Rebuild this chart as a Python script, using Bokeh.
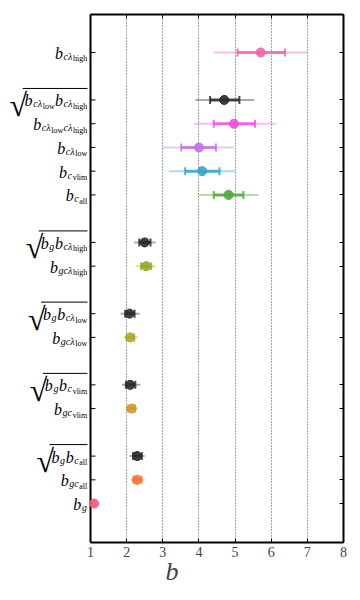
import numpy as np
from bokeh.plotting import figure
from bokeh.models import (ColumnDataSource, Range1d, LinearAxis, FixedTicker,
                          CustomJSTickFormatter)
from bokeh.core.properties import value
from bokeh.embed import file_html
from bokeh.resources import INLINE

# ---------------- data ----------------
keys = ["bc_high", "sqrt_lowhigh", "bc_lowhigh", "bc_low", "bc_vlim", "bc_all",
        "sqrt_g_high", "bgc_high", "sqrt_g_low", "bgc_low", "sqrt_g_vlim", "bgc_vlim",
        "sqrt_g_all", "bgc_all", "b_g"]
rows = [19, 17, 16, 15, 14, 13, 11, 10, 8, 7, 5, 4, 2, 1, 0]
centers = [5.71, 4.70, 4.97, 4.00, 4.09, 4.82, 2.50, 2.54, 2.08, 2.10, 2.10, 2.14, 2.29, 2.29, 1.10]
lo68 = [5.07, 4.31, 4.41, 3.51, 3.62, 4.41, 2.35, 2.40, 1.96, 2.00, 1.98, 2.04, 2.18, 2.19, 1.09]
hi68 = [6.38, 5.12, 5.55, 4.47, 4.57, 5.23, 2.66, 2.68, 2.22, 2.21, 2.24, 2.23, 2.42, 2.41, 1.11]
lo95 = [4.42, 3.90, 3.86, 3.00, 3.17, 4.00, 2.21, 2.27, 1.83, 1.92, 1.87, 1.96, 2.08, 2.11, 1.08]
hi95 = [7.01, 5.53, 6.12, 4.96, 5.00, 5.64, 2.80, 2.80, 2.36, 2.31, 2.38, 2.31, 2.50, 2.50, 1.12]
colors = ["#f263ae", "#2b2b2b", "#f052dc", "#c472ec", "#36a6c8", "#4dac38",
          "#2b2b2b", "#93ab2c", "#2b2b2b", "#b2a630", "#2b2b2b", "#d5982e",
          "#2b2b2b", "#f07a32", "#f2607c"]
xticks = [1, 2, 3, 4, 5, 6, 7, 8]

# label pieces: (text, level, italic)
label_specs = {
    "bc_high": (False, [("b", 0, True), ("cλ", 1, True), ("high", 2, False)]),
    "sqrt_lowhigh": (True, [("b", 0, True), ("cλ", 1, True), ("low", 2, False),
                            ("b", 0, True), ("cλ", 1, True), ("high", 2, False)]),
    "bc_lowhigh": (False, [("b", 0, True), ("cλ", 1, True), ("low", 2, False),
                           ("cλ", 1, True), ("high", 2, False)]),
    "bc_low": (False, [("b", 0, True), ("cλ", 1, True), ("low", 2, False)]),
    "bc_vlim": (False, [("b", 0, True), ("c", 1, True), ("vlim", 2, False)]),
    "bc_all": (False, [("b", 0, True), ("c", 1, True), ("all", 2, False)]),
    "sqrt_g_high": (True, [("b", 0, True), ("g", 1, True), ("b", 0, True), ("cλ", 1, True), ("high", 2, False)]),
    "bgc_high": (False, [("b", 0, True), ("gcλ", 1, True), ("high", 2, False)]),
    "sqrt_g_low": (True, [("b", 0, True), ("g", 1, True), ("b", 0, True), ("cλ", 1, True), ("low", 2, False)]),
    "bgc_low": (False, [("b", 0, True), ("gcλ", 1, True), ("low", 2, False)]),
    "sqrt_g_vlim": (True, [("b", 0, True), ("g", 1, True), ("b", 0, True), ("c", 1, True), ("vlim", 2, False)]),
    "bgc_vlim": (False, [("b", 0, True), ("gc", 1, True), ("vlim", 2, False)]),
    "sqrt_g_all": (True, [("b", 0, True), ("g", 1, True), ("b", 0, True), ("c", 1, True), ("all", 2, False)]),
    "bgc_all": (False, [("b", 0, True), ("gc", 1, True), ("all", 2, False)]),
    "b_g": (False, [("b", 0, True), ("g", 1, True)]),
}

# ---------------- layout ----------------
X0, X1 = 1, 8
Y0, Y1 = -1.64, 20.6
LABEL_PX = 90          # width of label area left of x = 1
BOX_PX = 253           # width of the boxed plot area
W, H = 352, 600
BR, BT, BB = W - LABEL_PX - BOX_PX, 14, 58
pxx = BOX_PX / (X1 - X0)
frame_h = H - BT - BB
pxy = frame_h / (Y1 - Y0)
XL = X0 - LABEL_PX / pxx

FONT = "Liberation Serif"

p = figure(width=W, height=H, x_range=Range1d(XL, X1), y_range=Range1d(Y0, Y1),
           output_backend="svg", toolbar_location=None, y_axis_location=None,
           min_border_left=0, min_border_right=BR, min_border_top=BT, min_border_bottom=BB)
p.extra_x_ranges = {"px": Range1d(-LABEL_PX, BOX_PX)}
p.background_fill_color = "white"
p.border_fill_color = "white"
p.outline_line_color = None

p.xaxis.ticker = FixedTicker(ticks=xticks)
p.xaxis.bounds = (X0, X1)
p.xaxis.major_tick_in = 4
p.xaxis.major_tick_out = 0
p.xaxis.minor_tick_line_color = None
p.xaxis.axis_line_width = 2
p.xaxis.major_label_text_font = FONT
p.xaxis.major_label_text_font_size = "14px"
p.xaxis.major_label_standoff = 4
p.xaxis.axis_label = "b"
p.xaxis.axis_label_text_font = FONT
p.xaxis.axis_label_text_font_style = "italic"
p.xaxis.axis_label_text_font_size = "26px"
p.xaxis.axis_label_standoff = -3

top = LinearAxis(ticker=FixedTicker(ticks=xticks), formatter=CustomJSTickFormatter(code="return ''"),
                 bounds=(X0, X1), major_tick_in=4, major_tick_out=0, minor_tick_line_color=None,
                 axis_line_width=2, major_label_standoff=0)
p.add_layout(top, "above")

rax = LinearAxis(ticker=FixedTicker(ticks=rows), formatter=CustomJSTickFormatter(code="return ''"),
                 major_tick_in=4, major_tick_out=0, minor_tick_line_color=None,
                 axis_line_width=2, major_label_standoff=0)
p.add_layout(rax, "right")

p.ygrid.visible = False
p.xgrid.ticker = FixedTicker(ticks=xticks[1:-1])
p.xgrid.grid_line_color = "#444444"
p.xgrid.grid_line_dash = "1 2"
p.xgrid.grid_line_width = 1

# left spine at x = 1 with inward ticks
p.segment(x0=[X0], y0=[Y0], x1=[X0], y1=[Y1], line_color="black", line_width=2)
p.ray(x=[X0] * len(rows), y=rows, length=5, length_units="screen", angle=0,
      line_color="black", line_width=1)

src = ColumnDataSource(dict(y=rows, c=centers, lo68=lo68, hi68=hi68, lo95=lo95, hi95=hi95, color=colors))
p.segment(x0="lo95", y0="y", x1="hi95", y1="y", source=src, line_color="color", line_width=2, line_alpha=0.4)
p.segment(x0="lo68", y0="y", x1="hi68", y1="y", source=src, line_color="color", line_width=3, line_alpha=0.85)
p.scatter(x="lo68", y="y", source=src, marker="dash", angle=np.pi / 2, size=8,
          line_color="color", line_width=2, line_alpha=0.85)
p.scatter(x="hi68", y="y", source=src, marker="dash", angle=np.pi / 2, size=8,
          line_color="color", line_width=2, line_alpha=0.85)
p.scatter(x="c", y="y", source=src, size=9, fill_color="color", line_color="color", fill_alpha=0.9)

# ---------------- math-like tick labels ----------------
W_RM = {'a': .444, 'l': .278, 'h': .5, 'i': .278, 'g': .5, 'o': .5, 'w': .722, 'v': .5, 'm': .778}
W_IT = {'b': .5, 'c': .444, 'g': .5, 'λ': .45}
SIZES = {0: 16, 1: 10, 2: 8}
SHIFT = {0: 1.0, 1: 4.0, 2: 6.5}


def pw(t, lvl, it):
    tbl = W_IT if it else W_RM
    return sum(tbl.get(ch, .5) for ch in t) * SIZES[lvl] + (0.6 if it else 0.2)


RAD_SIZE = 32
RAD_W = 15
RAD_BASE = 5
OVER = 11.5
lx, ly, lt, ls, lst = [], [], [], [], []
ox0, ox1, oy = [], [], []
for key, r in zip(keys, rows):
    is_sqrt, pieces = label_specs[key]
    total = sum(pw(t, l, it) for t, l, it in pieces)
    right = -3
    xo = right - total - (RAD_W if is_sqrt else 0)
    if is_sqrt:
        lx.append(xo); ly.append(r - RAD_BASE / pxy); lt.append("√")
        ls.append(f"{RAD_SIZE}px"); lst.append("normal")
        ox0.append(xo + RAD_W - 2); ox1.append(right); oy.append(r + OVER / pxy)
        xo += RAD_W
    for t, l, it in pieces:
        lx.append(xo); ly.append(r - SHIFT[l] / pxy); lt.append(t)
        ls.append(f"{SIZES[l]}px"); lst.append("italic" if it else "normal")
        xo += pw(t, l, it)

lab = ColumnDataSource(dict(x=lx, y=ly, text=lt, size=ls, style=lst))
p.text(x="x", y="y", text="text", source=lab, x_range_name="px",
       text_font=value(FONT), text_font_size="size", text_font_style="style",
       text_align="left", text_baseline="alphabetic", text_color="black")
p.segment(x0=ox0, y0=oy, x1=ox1, y1=oy, x_range_name="px", line_color="black", line_width=1)

open("out.html", "w").write(file_html(p, INLINE))
